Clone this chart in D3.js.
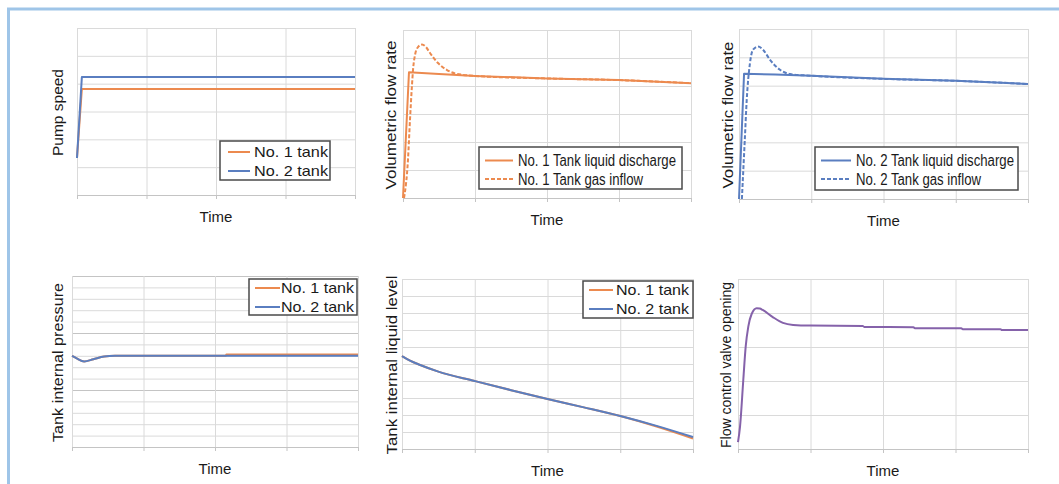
<!DOCTYPE html>
<html>
<head>
<meta charset="utf-8">
<script src="https://cdn.jsdelivr.net/npm/d3@7"></script>
<style>
  body { margin: 0; background: #fff; }
  svg { display: block; font-family: "Liberation Sans", Arial, sans-serif; }
</style>
</head>
<body>
<svg id="chart" width="1059" height="484"></svg>
<script>
// ---- data (time in grid units, value in grid units) ----
const timeTicks = [0, 1, 2, 3, 4];
const xLabel = 'Time';

const tankNames = ['No. 1 tank', 'No. 2 tank'];
const flow1Names = ['No. 1 Tank liquid discharge', 'No. 1 Tank gas inflow'];
const flow2Names = ['No. 2 Tank liquid discharge', 'No. 2 Tank gas inflow'];

const pumpNo1 = [[0, 1.33], [0.07, 3.81], [4, 3.81]];
const pumpNo2 = [[0, 1.33], [0.07, 4.24], [4, 4.24]];

const flow1Liquid = [[0, 0], [0.083, 4.49], [0.5, 4.43], [1, 4.36], [2, 4.27], [3, 4.21], [4, 4.1]];
const flow1Gas = [[0.014, 0], [0.069, 1.36], [0.097, 2.79], [0.125, 4.04], [0.139, 4.57], [0.167, 5.11],
  [0.208, 5.39], [0.264, 5.48], [0.319, 5.39], [0.375, 5.18], [0.486, 4.82], [0.611, 4.57],
  [0.722, 4.45], [1, 4.36], [2, 4.27], [3, 4.21], [4, 4.1]];

const flow2Liquid = [[0, 0], [0.07, 4.42], [0.5, 4.39], [1, 4.35], [2, 4.24], [3, 4.17], [4, 4.06]];
const flow2Gas = [[0.04, 0], [0.08, 2.08], [0.107, 3.5], [0.152, 4.8], [0.194, 5.27], [0.263, 5.38],
  [0.332, 5.27], [0.43, 4.91], [0.567, 4.56], [0.706, 4.41], [1, 4.35], [2, 4.24], [3, 4.17], [4, 4.06]];

const pressNo1 = [[0, 8.0], [0.06, 7.8], [0.17, 7.5], [0.3, 7.7], [0.45, 7.93], [0.6, 8.0],
  [2.15, 8.0], [2.16, 8.12], [4, 8.12]];
const pressNo2 = [[0, 8.0], [0.06, 7.8], [0.17, 7.5], [0.3, 7.7], [0.45, 7.93], [0.6, 8.0], [4, 8.0]];

const levelNo1 = [[0, 5.47], [0.11, 5.2], [0.25, 4.94], [0.5, 4.55], [1, 4.0], [1.5, 3.46],
  [2, 2.94], [2.5, 2.45], [3, 1.94], [3.5, 1.32], [4, 0.62]];
const levelNo2 = [[0, 5.47], [0.11, 5.2], [0.25, 4.94], [0.5, 4.55], [1, 4.0], [1.5, 3.46],
  [2, 2.94], [2.5, 2.45], [3, 1.94], [3.5, 1.36], [4, 0.7]];

const valveOpening = [[0, 0.2], [0.028, 0.66], [0.073, 2.03], [0.106, 3.01], [0.142, 3.6],
  [0.188, 3.97], [0.257, 4.14], [0.3, 4.13], [0.34, 4.09], [0.48, 3.88], [0.62, 3.71],
  [0.76, 3.65], [1, 3.63], [1.72, 3.62], [1.74, 3.59], [2.42, 3.58], [2.44, 3.55],
  [3.08, 3.55], [3.1, 3.52], [3.62, 3.52], [3.64, 3.5], [4, 3.5]];

// ---- styles ----
const cs = {
  orange: '#ec8a4f',
  blue: '#5a7ec0',
  purple: '#8562aa',
  grid: '#dadada',
  gridMajor: '#c4c4c4',
  text: '#1a1a1a',
  frame: '#9fc5e8',
};

const panels = [
  {
    plot: [77, 28, 355, 195], yMax: 6, label: 'Pump speed', labelX: 58, labelLen: 87,
    series: [
      { data: pumpNo1, color: cs.orange, name: tankNames[0] },
      { data: pumpNo2, color: cs.blue, name: tankNames[1] },
    ],
    legend: { box: [220, 141, 330, 180], line: [228, 250], textX: 254, rows: [152, 171], textLen: 74, size: 14.5 },
  },
  {
    plot: [403, 30, 691, 198], yMax: 6, label: 'Volumetric flow rate', labelX: 391, labelLen: 149,
    series: [
      { data: flow1Gas, color: cs.orange, name: flow1Names[1], dash: '4,2', curve: d3.curveMonotoneX },
      { data: flow1Liquid, color: cs.orange, name: flow1Names[0] },
    ],
    legendOrder: [1, 0],
    legend: { box: [479, 147, 682, 189], line: [485, 513], textX: 518, rows: [160.5, 179], textLen: [158, 125], size: 16 },
  },
  {
    plot: [739, 29, 1028, 199], yMax: 6, label: 'Volumetric flow rate', labelX: 728, labelLen: 147,
    series: [
      { data: flow2Gas, color: cs.blue, name: flow2Names[1], dash: '4,2', curve: d3.curveMonotoneX },
      { data: flow2Liquid, color: cs.blue, name: flow2Names[0] },
    ],
    legendOrder: [1, 0],
    legend: { box: [815, 147, 1018, 190], line: [821, 851], textX: 856, rows: [160.5, 179], textLen: [158, 125], size: 16 },
  },
  {
    plot: [72, 276, 358, 447], yMax: 15, major: 5, label: 'Tank internal pressure', labelX: 58, labelLen: 159,
    series: [
      { data: pressNo1, color: cs.orange, name: tankNames[0], curve: d3.curveMonotoneX },
      { data: pressNo2, color: cs.blue, name: tankNames[1], curve: d3.curveMonotoneX },
    ],
    legend: { box: [249, 279, 357, 315], line: [255, 280], textX: 281, rows: [288, 307], textLen: 73, size: 14.5 },
  },
  {
    plot: [402, 279, 693, 449], yMax: 10, label: 'Tank internal liquid level', labelX: 392, labelLen: 179,
    series: [
      { data: levelNo1, color: cs.orange, name: tankNames[0], curve: d3.curveMonotoneX },
      { data: levelNo2, color: cs.blue, name: tankNames[1], curve: d3.curveMonotoneX },
    ],
    legend: { box: [583, 281, 693, 318], line: [589, 613], textX: 616, rows: [290, 309], textLen: 73, size: 14.5 },
  },
  {
    plot: [738, 279, 1028, 449], yMax: 5, label: 'Flow control valve opening', labelX: 726, labelLen: 166,
    series: [
      { data: valveOpening, color: cs.purple, curve: d3.curveMonotoneX },
    ],
  },
];

const svg = d3.select('#chart');

// blue frame (left and top edges)
svg.append('path')
  .attr('d', 'M8.5,484V9H1059')
  .attr('fill', 'none')
  .attr('stroke', cs.frame)
  .attr('stroke-width', 3);

/**
 * @method drawPanel
 * @param {Object} p panel config
 * @description draws grid, lines, labels and legend of one small chart
 */
const drawPanel = (p) => {
  const [x0, y0, x1, y1] = p.plot;
  const x = d3.scaleLinear().domain([0, 4]).range([x0, x1]);
  const y = d3.scaleLinear().domain([0, p.yMax]).range([y1, y0]);
  const g = svg.append('g');

  // horizontal grid
  const yGrid = g.append('g')
    .attr('transform', `translate(${x0},0)`)
    .call(d3.axisLeft(y).tickValues(d3.range(0, p.yMax + 1)).tickSize(-(x1 - x0)).tickFormat(''));
  yGrid.select('.domain').remove();
  yGrid.selectAll('.tick line')
    .attr('stroke', d => (p.major && d % p.major === 0 ? cs.gridMajor : cs.grid));

  // vertical grid + small ticks below
  const xGrid = g.append('g')
    .attr('transform', `translate(0,${y1})`)
    .call(d3.axisBottom(x).tickValues(timeTicks).tickSizeInner(-(y1 - y0)).tickSizeOuter(0).tickFormat(''));
  xGrid.select('.domain').attr('stroke', cs.grid);
  xGrid.selectAll('.tick line').attr('stroke', cs.grid);
  const xTicks = g.append('g')
    .attr('transform', `translate(0,${y1})`)
    .call(d3.axisBottom(x).tickValues(timeTicks).tickSizeInner(4).tickSizeOuter(0).tickFormat(''));
  xTicks.select('.domain').attr('stroke', cs.gridMajor);
  xTicks.selectAll('.tick line').attr('stroke', cs.gridMajor);

  // data lines
  p.series.forEach((s) => {
    const line = d3.line()
      .x(d => x(d[0]))
      .y(d => y(d[1]))
      .curve(s.curve || d3.curveLinear);
    g.append('path')
      .datum(s.data)
      .attr('fill', 'none')
      .attr('stroke', s.color)
      .attr('stroke-width', 2)
      .attr('stroke-linejoin', 'round')
      .attr('stroke-dasharray', s.dash || null)
      .attr('d', line);
  });

  // axis titles
  g.append('text')
    .attr('transform', `translate(${p.labelX},${(y0 + y1) / 2 + 1}) rotate(-90)`)
    .attr('dy', '0.35em')
    .attr('text-anchor', 'middle')
    .attr('font-size', 15)
    .attr('fill', cs.text)
    .attr('textLength', p.labelLen)
    .attr('lengthAdjust', 'spacingAndGlyphs')
    .text(p.label);
  g.append('text')
    .attr('x', (x0 + x1) / 2)
    .attr('y', y1 + 27)
    .attr('text-anchor', 'middle')
    .attr('font-size', 15)
    .attr('fill', cs.text)
    .text(xLabel);

  // legend
  if (!p.legend) return;
  const L = p.legend;
  const lg = g.append('g');
  lg.append('rect')
    .attr('x', L.box[0]).attr('y', L.box[1])
    .attr('width', L.box[2] - L.box[0]).attr('height', L.box[3] - L.box[1])
    .attr('fill', '#fff')
    .attr('stroke', '#4a4a4a')
    .attr('stroke-width', 1.5);
  const order = p.legendOrder || p.series.map((s, i) => i);
  order.forEach((si, row) => {
    const s = p.series[si];
    const cy = L.rows[row];
    lg.append('line')
      .attr('x1', L.line[0]).attr('x2', L.line[1])
      .attr('y1', cy).attr('y2', cy)
      .attr('stroke', s.color)
      .attr('stroke-width', 2)
      .attr('stroke-dasharray', s.dash || null);
    lg.append('text')
      .attr('x', L.textX)
      .attr('y', cy + L.size * 0.36)
      .attr('font-size', L.size)
      .attr('fill', cs.text)
      .attr('textLength', Array.isArray(L.textLen) ? L.textLen[row] : L.textLen)
      .attr('lengthAdjust', 'spacingAndGlyphs')
      .text(s.name);
  });
};

panels.forEach(drawPanel);
</script>
</body>
</html>
